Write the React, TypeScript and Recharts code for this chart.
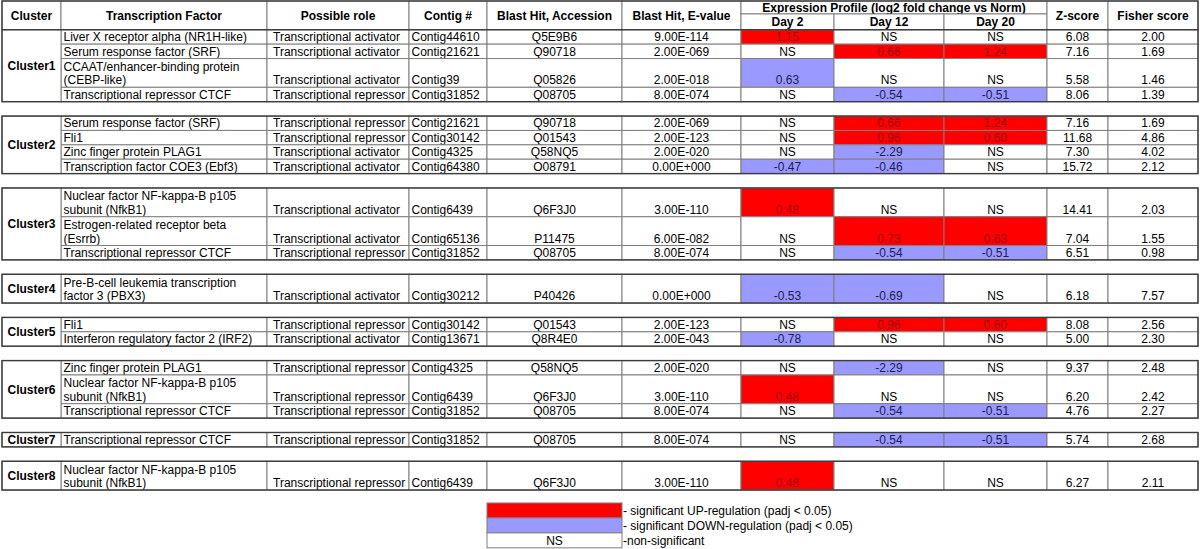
import React from "react";
import { ComposedChart, XAxis, YAxis, ReferenceArea } from "recharts";

const clusterNames = ["Cluster1", "Cluster2", "Cluster3", "Cluster4", "Cluster5", "Cluster6", "Cluster7", "Cluster8"];
const clusterSizes = [4, 4, 3, 1, 2, 3, 1, 1];

const headers = ["Cluster", "Transcription Factor", "Possible role", "Contig #", "Blast Hit, Accession", "Blast Hit, E-value"];
const profileHeader = "Expression Profile (log2 fold change vs Norm)";
const dayHeaders = ["Day 2", "Day 12", "Day 20"];
const scoreHeaders = ["Z-score", "Fisher score"];

const factors = [
  "Liver X receptor alpha (NR1H-like)",
  "Serum response factor (SRF)",
  "CCAAT/enhancer-binding protein\n(CEBP-like)",
  "Transcriptional repressor CTCF",
  "Serum response factor (SRF)",
  "Fli1",
  "Zinc finger protein PLAG1",
  "Transcription factor COE3 (Ebf3)",
  "Nuclear factor NF-kappa-B p105\nsubunit (NfkB1)",
  "Estrogen-related receptor beta\n(Esrrb)",
  "Transcriptional repressor CTCF",
  "Pre-B-cell leukemia transcription\nfactor 3 (PBX3)",
  "Fli1",
  "Interferon regulatory factor 2 (IRF2)",
  "Zinc finger protein PLAG1",
  "Nuclear factor NF-kappa-B p105\nsubunit (NfkB1)",
  "Transcriptional repressor CTCF",
  "Transcriptional repressor CTCF",
  "Nuclear factor NF-kappa-B p105\nsubunit (NfkB1)",
];

const ACT = "Transcriptional activator";
const REP = "Transcriptional repressor";
const roles = [ACT, ACT, ACT, REP, REP, REP, ACT, ACT, ACT, ACT, REP, ACT, REP, ACT, REP, REP, REP, REP, REP];

const contigs = [
  "Contig44610", "Contig21621", "Contig39", "Contig31852", "Contig21621", "Contig30142", "Contig4325",
  "Contig64380", "Contig6439", "Contig65136", "Contig31852", "Contig30212", "Contig30142", "Contig13671",
  "Contig4325", "Contig6439", "Contig31852", "Contig31852", "Contig6439",
];

const accessions = [
  "Q5E9B6", "Q90718", "Q05826", "Q08705", "Q90718", "Q01543", "Q58NQ5", "O08791", "Q6F3J0", "P11475",
  "Q08705", "P40426", "Q01543", "Q8R4E0", "Q58NQ5", "Q6F3J0", "Q08705", "Q08705", "Q6F3J0",
];

const eValues = [
  "9.00E-114", "2.00E-069", "2.00E-018", "8.00E-074", "2.00E-069", "2.00E-123", "2.00E-020", "0.00E+000",
  "3.00E-110", "6.00E-082", "8.00E-074", "0.00E+000", "2.00E-123", "2.00E-043", "2.00E-020", "3.00E-110",
  "8.00E-074", "8.00E-074", "3.00E-110",
];

// null = NS
const day2 = [1.15, null, 0.63, null, null, null, null, -0.47, 0.48, null, null, -0.53, null, -0.78, null, 0.48, null, null, 0.48];
const day12 = [null, 0.66, null, -0.54, 0.66, 0.96, -2.29, -0.46, null, 0.73, -0.54, -0.69, 0.96, null, -2.29, null, -0.54, -0.54, null];
const day20 = [null, 1.24, null, -0.51, 1.24, 0.6, null, null, null, 0.63, -0.51, null, 0.6, null, null, null, -0.51, -0.51, null];

// U = up, D = down, N = non-significant
const day2Reg = ["U", "N", "D", "N", "N", "N", "N", "D", "U", "N", "N", "D", "N", "D", "N", "U", "N", "N", "U"];
const day12Reg = ["N", "U", "N", "D", "U", "U", "D", "D", "N", "U", "D", "D", "U", "N", "D", "N", "D", "D", "N"];
const day20Reg = ["N", "U", "N", "D", "U", "U", "N", "N", "N", "U", "D", "N", "U", "N", "N", "N", "D", "D", "N"];

const zScores = [6.08, 7.16, 5.58, 8.06, 7.16, 11.68, 7.3, 15.72, 14.41, 7.04, 6.51, 6.18, 8.08, 5.0, 9.37, 6.2, 4.76, 5.74, 6.27];
const fisherScores = [2.0, 1.69, 1.46, 1.39, 1.69, 4.86, 4.02, 2.12, 2.03, 1.55, 0.98, 7.57, 2.56, 2.3, 2.48, 2.42, 2.27, 2.68, 2.11];

const legendCodes = ["U", "D", "N"];
const legendLabels = [
  "- significant UP-regulation (padj < 0.05)",
  "- significant DOWN-regulation (padj < 0.05)",
  "-non-significant",
];

// layout
const FONT = "'Liberation Sans', Arial, Helvetica, sans-serif";
const FS = 12;
const LH = 13.5;
const COLS = [2, 61, 267, 409, 487, 622, 741, 834, 944, 1047, 1108, 1198];
const PAD = [0, 2.5, 6, 2.5];
const GRID = "#7f7f7f";
const BORDER = "#3c3c3c";
const fills: Record<string, string> = { U: "#ff0000", D: "#9999ff", N: "#ffffff" };
const inks: Record<string, string> = { U: "#9a0000", D: "#20204f", N: "#000000" };

type CellOpts = {
  lines: string[];
  align?: "left" | "center";
  pad?: number;
  bold?: boolean;
  fill?: string;
  color?: string;
  v?: "bottom" | "middle";
};

const cellShape = (o: CellOpts) => (p: any) => {
  const { x, y, width, height } = p;
  const align = o.align ?? "center";
  const tx = align === "left" ? x + (o.pad ?? 2.5) : x + width / 2;
  const n = o.lines.length;
  const baseY = (k: number) =>
    o.v === "middle"
      ? y + height / 2 + (k - (n - 1) / 2) * LH + FS * 0.36
      : y + height - 3 - (n - 1 - k) * LH;
  return (
    <g>
      <rect x={x} y={y} width={width} height={height} fill={o.fill ?? "#ffffff"} stroke={GRID} strokeWidth={1} />
      <text
        fontFamily={FONT}
        fontSize={FS}
        fontWeight={o.bold ? 700 : 400}
        fill={o.color ?? "#000"}
        textAnchor={align === "left" ? "start" : "middle"}
      >
        {o.lines.map((l, k) => (
          <tspan key={k} x={tx} y={baseY(k)}>
            {l}
          </tspan>
        ))}
      </text>
    </g>
  );
};

const borderShape = (p: any) => (
  <rect x={p.x} y={p.y} width={p.width} height={p.height} fill="none" stroke={BORDER} strokeWidth={1.4} />
);

const fmt = (v: number | null) => (v === null ? "NS" : v.toFixed(2));

export default function App() {
  const areas: React.ReactNode[] = [];
  const cell = (key: string, c0: number, c1: number, y1: number, y2: number, o: CellOpts) =>
    areas.push(
      <ReferenceArea key={key} x1={COLS[c0]} x2={COLS[c1]} y1={y1} y2={y2} ifOverflow="visible" shape={cellShape(o)} />
    );
  const border = (key: string, y1: number, y2: number) =>
    areas.push(
      <ReferenceArea key={key} x1={COLS[0]} x2={COLS[11]} y1={y1} y2={y2} ifOverflow="visible" shape={borderShape} />
    );

  // header
  headers.forEach((h, c) => cell(`h${c}`, c, c + 1, 0, 2, { lines: [h], bold: true, v: "middle" }));
  cell("hp", 6, 9, 0, 0.9, { lines: [profileHeader], bold: true, v: "middle" });
  dayHeaders.forEach((h, k) => cell(`hd${k}`, 6 + k, 7 + k, 0.9, 2, { lines: [h], bold: true, v: "middle" }));
  scoreHeaders.forEach((h, k) => cell(`hs${k}`, 9 + k, 10 + k, 0, 2, { lines: [h], bold: true, v: "middle" }));
  border("bh", 0, 2);

  let y = 2;
  let r = 0;
  clusterSizes.forEach((size, ci) => {
    const top = y;
    for (let k = 0; k < size; k++, r++) {
      const lines = factors[r].split("\n");
      const y2 = y + lines.length;
      cell(`f${r}`, 1, 2, y, y2, { lines, align: "left", pad: PAD[1] });
      cell(`r${r}`, 2, 3, y, y2, { lines: [roles[r]], align: "left", pad: PAD[2] });
      cell(`c${r}`, 3, 4, y, y2, { lines: [contigs[r]], align: "left", pad: PAD[3] });
      cell(`a${r}`, 4, 5, y, y2, { lines: [accessions[r]] });
      cell(`e${r}`, 5, 6, y, y2, { lines: [eValues[r]] });
      [
        [day2, day2Reg],
        [day12, day12Reg],
        [day20, day20Reg],
      ].forEach(([vals, regs], d) => {
        const reg = (regs as string[])[r];
        cell(`d${d}-${r}`, 6 + d, 7 + d, y, y2, {
          lines: [fmt((vals as (number | null)[])[r])],
          fill: fills[reg],
          color: inks[reg],
        });
      });
      cell(`z${r}`, 9, 10, y, y2, { lines: [zScores[r].toFixed(2)] });
      cell(`s${r}`, 10, 11, y, y2, { lines: [fisherScores[r].toFixed(2)] });
      y = y2;
    }
    cell(`cl${ci}`, 0, 1, top, y, { lines: [clusterNames[ci]], bold: true, v: "middle" });
    border(`b${ci}`, top, y);
    y += 1;
  });

  // legend
  const LEG_TOP = 34.9;
  const LEG_ROW = 1.04;
  legendCodes.forEach((code, k) => {
    const y1 = LEG_TOP + k * LEG_ROW;
    cell(`lg${k}`, 4, 5, y1, y1 + LEG_ROW, {
      lines: [code === "N" ? "NS" : ""],
      fill: fills[code],
      color: inks[code],
    });
    areas.push(
      <ReferenceArea
        key={`lt${k}`}
        x1={COLS[5]}
        x2={COLS[5] + 300}
        y1={y1}
        y2={y1 + LEG_ROW}
        ifOverflow="visible"
        shape={(p: any) => (
          <text x={p.x + 1} y={p.y + p.height - 3} fontFamily={FONT} fontSize={FS} fill="#000">
            {legendLabels[k]}
          </text>
        )}
      />
    );
  });

  return (
    <div style={{ position: "absolute", left: 0, top: 0, width: 1200, height: 549, background: "#fff" }}>
      <ComposedChart width={1200} height={549} margin={{ top: 1, right: 0, bottom: 0, left: 0 }}>
        <XAxis type="number" dataKey="x" domain={[0, 1200]} hide allowDataOverflow />
        <YAxis type="number" dataKey="y" domain={[0, 38.1]} reversed hide allowDataOverflow />
        {areas}
      </ComposedChart>
    </div>
  );
}
